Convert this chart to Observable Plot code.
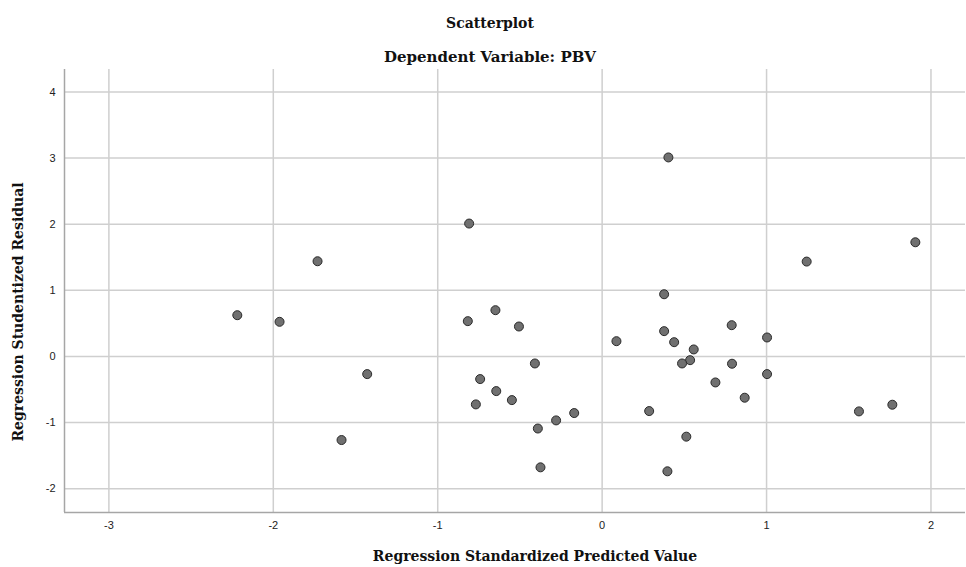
<!DOCTYPE html>
<html>
<head>
<meta charset="utf-8">
<script src="https://cdn.jsdelivr.net/npm/d3@7"></script>
<script src="https://cdn.jsdelivr.net/npm/@observablehq/plot@0.6"></script>
<style>
  html, body { margin: 0; padding: 0; background: #fff; }
  #chart svg { display: block; }
</style>
</head>
<body>
<div id="chart"></div>
<script>
// Regression Standardized Predicted Value (x) and Studentized Residual (y)
const predicted = [
  -0.809, -1.731, -2.219, -1.962, -0.817, -0.649, -0.506, -0.409, -1.429, -0.742,
  -0.644, -0.768, -0.549, -0.170, -0.280, -0.391, -1.585, -0.375,
  0.403, 1.905, 1.244, 0.377, 0.788, 0.377, 0.087, 0.438, 1.003, 0.557,
  0.535, 0.486, 0.790, 1.003, 0.689, 0.867, 0.286, 1.562, 1.765, 0.512, 0.397
];
const residual = [
  2.01, 1.44, 0.624, 0.524, 0.534, 0.70, 0.453, -0.106, -0.267, -0.342,
  -0.524, -0.725, -0.66, -0.856, -0.967, -1.09, -1.264, -1.677,
  3.01, 1.727, 1.435, 0.941, 0.473, 0.383, 0.231, 0.216, 0.287, 0.106,
  -0.056, -0.106, -0.11, -0.267, -0.393, -0.624, -0.826, -0.831, -0.730, -1.213, -1.737
];
const xTicks = [-3, -2, -1, 0, 1, 2];
const yTicks = [-2, -1, 0, 1, 2, 3, 4];
const xDomain = [-3.27, 2.21];
const yDomain = [-2.36, 4.34];
const titleText = "Scatterplot";
const subtitleText = "Dependent Variable: PBV";
const xLabel = "Regression Standardized Predicted Value";
const yLabel = "Regression Studentized Residual";

const points = predicted.map((x, i) => ({x, y: residual[i]}));
const serif = "'DejaVu Serif', 'Liberation Serif', serif";
const sans = "'Liberation Sans', Arial, sans-serif";
const fmt = d => String(d);

const chart = Plot.plot({
  width: 966,
  height: 567,
  marginTop: 69,
  marginBottom: 55,
  marginLeft: 64,
  marginRight: 1,
  style: {background: "#fff", overflow: "visible"},
  x: {domain: xDomain},
  y: {domain: yDomain},
  marks: [
    Plot.gridX(xTicks, {stroke: "#cfcfcf", strokeOpacity: 1, strokeWidth: 1.5}),
    Plot.gridY(yTicks, {stroke: "#cfcfcf", strokeOpacity: 1, strokeWidth: 1.5}),
    Plot.ruleX([xDomain[0]], {stroke: "#a6a6a6", strokeWidth: 1.5}),
    Plot.ruleY([yDomain[0]], {stroke: "#a6a6a6", strokeWidth: 1.5}),
    Plot.axisX(xTicks, {tickSize: 0, tickPadding: 9, fontSize: 11, fontFamily: sans, fill: "#222", label: null, tickFormat: fmt}),
    Plot.axisY(yTicks, {tickSize: 0, tickPadding: 9, fontSize: 11, fontFamily: sans, fill: "#222", label: null, tickFormat: fmt}),
    Plot.dot(points, {x: "x", y: "y", r: 4.5, fill: "#707070", stroke: "#2a2a2a", strokeWidth: 1}),
    Plot.text([titleText], {text: d => d, frameAnchor: "top", lineAnchor: "middle", dx: -25, dy: -46, fontSize: 14, fontWeight: "bold", fontFamily: serif, fill: "#111"}),
    Plot.text([subtitleText], {text: d => d, frameAnchor: "top", lineAnchor: "middle", dx: -25, dy: -12, fontSize: 15, fontWeight: "bold", fontFamily: serif, fill: "#111"}),
    Plot.text([xLabel], {text: d => d, frameAnchor: "bottom", lineAnchor: "middle", dx: 20, dy: 44, fontSize: 14, fontWeight: "bold", fontFamily: serif, fill: "#111"}),
    Plot.text([yLabel], {text: d => d, frameAnchor: "left", textAnchor: "middle", lineAnchor: "middle", rotate: -90, dx: -46, dy: 21, fontSize: 14, fontWeight: "bold", fontFamily: serif, fill: "#111"})
  ]
});
document.getElementById("chart").appendChild(chart);
</script>
</body>
</html>
